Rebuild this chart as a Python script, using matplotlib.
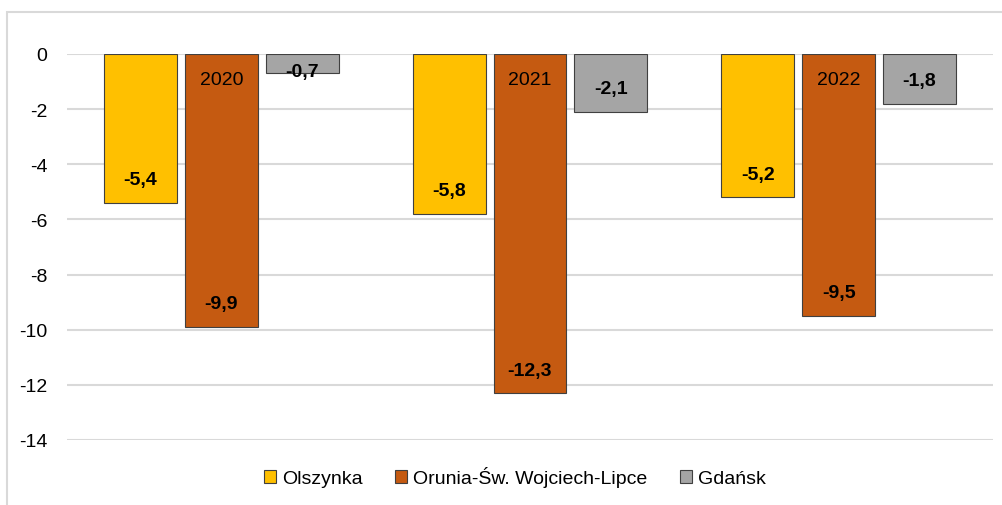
import numpy as np
import matplotlib.pyplot as plt
from matplotlib.patches import Rectangle

plt.rcParams['font.family'] = ['Liberation Sans', 'DejaVu Sans']
plt.rcParams['axes.unicode_minus'] = False

# data
years = ['2020', '2021', '2022']
series_names = ['Olszynka', 'Orunia-Św. Wojciech-Lipce', 'Gdańsk']
olszynka = [-5.4, -5.8, -5.2]
orunia = [-9.9, -12.3, -9.5]
gdansk = [-0.7, -2.1, -1.8]
colors = ['#FFC000', '#C55A11', '#A5A5A5']

fs = 14

fig = plt.figure(figsize=(10.03, 5.06), dpi=100)
ax = fig.add_axes([67 / 1003, 1 - 441 / 506, 926 / 1003, 386 / 506])

# outer chart frame
fig.patches.append(Rectangle((7 / 1003, -0.1), 2, 1.1 - 13 / 506, transform=fig.transFigure,
                             fill=False, edgecolor='#d9d9d9', linewidth=1.5))

x = np.arange(len(years))
width = 0.236
step = 0.262
for i, (vals, name, c) in enumerate(zip([olszynka, orunia, gdansk], series_names, colors)):
    pos = x + (i - 1) * step
    ax.bar(pos, vals, width, color=c, edgecolor='#404040', linewidth=0.8, label=name, zorder=3)
    for px, v in zip(pos, vals):
        off = 23 if abs(v) > 1 else 2
        ax.annotate(f'{v:.1f}'.replace('.', ','), (px, v), xytext=(0, off),
                    textcoords='offset pixels', ha='center', va='center',
                    fontsize=fs, fontweight='bold', zorder=4)

# year labels just below the zero line
for xi, yr in zip(x, years):
    ax.annotate(yr, (xi, 0), xytext=(0, -26), textcoords='offset pixels',
                ha='center', va='center', fontsize=fs, zorder=4)

ax.set_xlim(-0.5, 2.5)
ax.set_ylim(-14, 0)
ax.set_yticks(np.arange(-14, 1, 2))
ax.set_xticks([])
ax.tick_params(axis='y', length=0, pad=14, labelsize=fs)
ax.grid(axis='y', color='#d9d9d9', linewidth=1.5, zorder=0)
ax.set_axisbelow(True)
for s in ax.spines.values():
    s.set_visible(False)

fig.legend(loc='center', bbox_to_anchor=(515 / 1003, 1 - 478 / 506), ncol=3, frameon=False,
           fontsize=fs, handlelength=0.6, handleheight=0.6, handletextpad=0.3,
           columnspacing=1.7)

fig.savefig('out.png', dpi=100)
